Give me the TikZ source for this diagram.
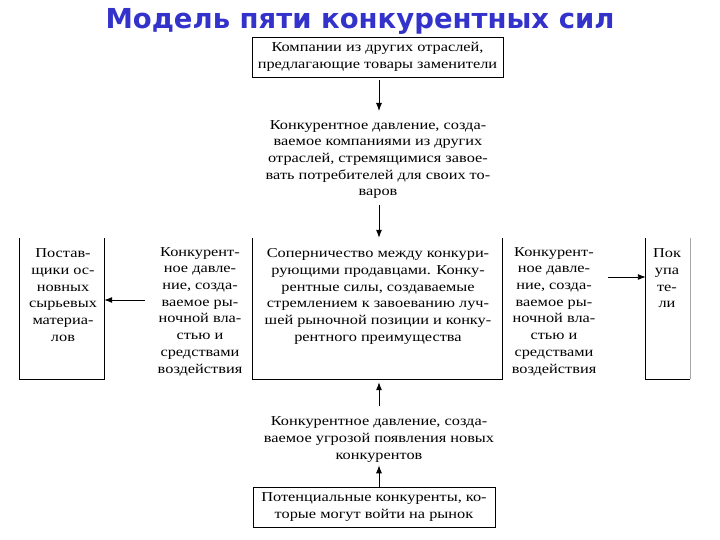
\documentclass[tikz,border=0pt]{standalone}
\usepackage{fontspec}
\setmainfont{Liberation Serif}
\newfontfamily\bodyfont[FakeStretch=1.2]{Liberation Serif}
\newfontfamily\titlefont{DejaVu Sans}
\usetikzlibrary{arrows.meta}
\definecolor{titleblue}{RGB}{51,51,204}
\begin{document}
\begin{tikzpicture}[x=1pt,y=-1pt,
  txt/.style={inner sep=0pt, align=center, font=\bodyfont\fontsize{13.6}{16.7}\selectfont},
  boxed/.style={draw, line width=0.8pt, inner sep=0pt, align=center, font=\bodyfont\fontsize{13.6}{16.7}\selectfont},
  frame/.style={inner sep=0pt},
  arr/.style={line width=0.9pt, -{Latex[length=8pt,width=6pt]}},
  edge/.style={line width=0.8pt}]
\useasboundingbox (0,0) rectangle (720,540);
\node[font=\titlefont\bfseries\fontsize{27.5}{30}\selectfont, text=titleblue] (title) at (360,21) {Модель пяти конкурентных сил};

\node[boxed, minimum width=251pt, minimum height=40pt] (subst) at (377.5,57) {Компании из других отраслей,\\предлагающие товары заменители};

\node[txt] (substp) at (378,159.5) {Конкурентное давление, созда-\\ваемое компаниями из других\\отраслей, стремящимися завое-\\вать потребителей для своих то-\\варов};

\node[frame, minimum width=249pt, minimum height=141pt] (rivalf) at (377.5,308.5) {};
\node[txt] (rival) at (378,296.5) {Соперничество между конкури-\\рующими продавцами. Конку-\\рентные силы, создаваемые\\стремлением к завоеванию луч-\\шей рыночной позиции и конку-\\рентного преимущества};

\node[frame, minimum width=84pt, minimum height=141pt] (supf) at (62,308.5) {};
\node[txt] (sup) at (63,295) {Постав-\\щики ос-\\новных\\сырьевых\\материа-\\лов};

\node[txt] (supp) at (200,311.5) {Конкурент-\\ное давле-\\ние, созда-\\ваемое ры-\\ночной вла-\\стью и\\средствами\\воздействия};

\node[txt] (buyp) at (554,311.5) {Конкурент-\\ное давле-\\ние, созда-\\ваемое ры-\\ночной вла-\\стью и\\средствами\\воздействия};

\node[frame, minimum width=44pt, minimum height=141pt] (buyf) at (668,308.5) {};
\node[txt] (buy) at (667,278.5) {Пок\\упа\\те-\\ли};

\node[txt] (entp) at (379,439.5) {Конкурентное давление, созда-\\ваемое угрозой появления новых\\конкурентов};

\node[boxed, minimum width=242pt, minimum height=40pt] (ent) at (374,507) {Потенциальные конкуренты, ко-\\торые могут войти на рынок};

% open-top frames
\draw[edge] (rivalf.north west) -- (rivalf.south west) -- (rivalf.south east) -- (rivalf.north east);
\draw[edge] (supf.north west) -- (supf.south west) -- (supf.south east) -- (supf.north east);
\draw[edge] (buyf.north west) -- (buyf.south west) -- (buyf.south east);
\draw[edge, gray!70] (buyf.south east) -- (buyf.north east);

% arrows
\draw[arr, shorten <=3pt, shorten >=9pt] (subst.south -| 379,0) -- (substp.north -| 379,0);
\draw[arr, shorten <=6pt] (substp.south -| 379,0) -- (rivalf.north -| 379,0);
\draw[arr, shorten <=11pt, shorten >=3pt] (entp.north -| 379,0) -- (rivalf.south -| 379,0);
\draw[arr, shorten >=3pt] (ent.north -| 379,0) -- (entp.south -| 379,0);
\coordinate (lstart) at (145,300);
\draw[arr] (lstart) -- (supf.east |- lstart);
\coordinate (rstart) at (608,277);
\draw[arr] (rstart) -- (buyf.west |- rstart);
\end{tikzpicture}
\end{document}
